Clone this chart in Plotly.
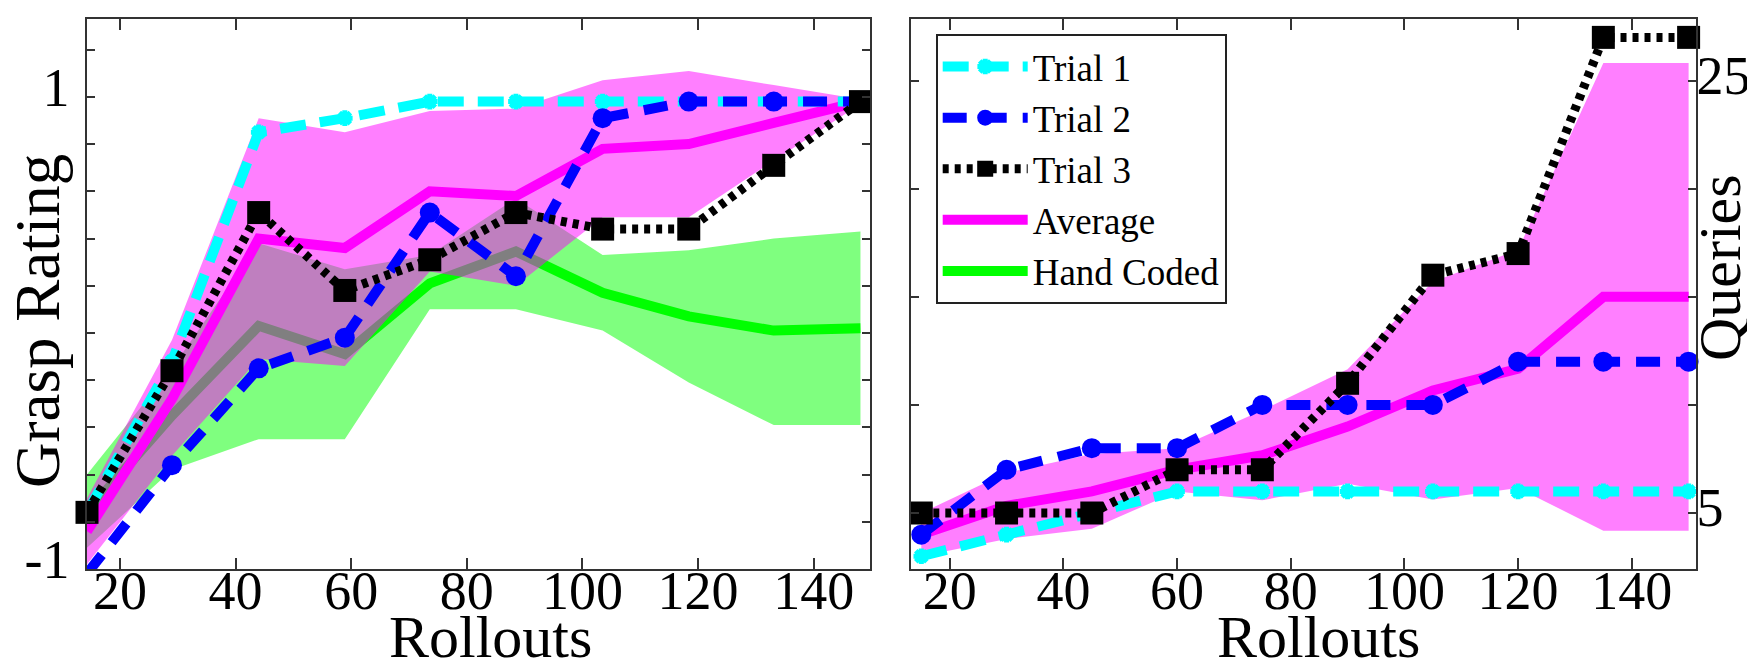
import plotly.graph_objects as go

# ---------------- data ----------------
# left panel: grasp rating vs rollouts
left_x = [14.3, 29.0, 44.0, 58.9, 73.6, 88.5, 103.5, 118.4, 133.1, 148.1]
grasp_t1 = [-0.76, -0.12, 0.85, 0.91, 0.98, 0.98, 0.98, 0.98, 0.98, 0.98]
grasp_t2 = [-1.02, -0.56, -0.15, -0.02, 0.51, 0.24, 0.91, 0.98, 0.98, 0.98]
grasp_t3 = [-0.76, -0.16, 0.51, 0.18, 0.31, 0.51, 0.44, 0.44, 0.71, 0.98]
grasp_avg = [-0.84, -0.28, 0.40, 0.36, 0.60, 0.58, 0.78, 0.80, 0.89, 0.98]
grasp_avg_lo = [-0.98, -0.52, -0.11, -0.14, 0.26, 0.20, 0.49, 0.49, 0.73, 0.97]
grasp_avg_hi = [-0.70, -0.03, 0.91, 0.85, 0.94, 0.95, 1.07, 1.11, 1.05, 0.99]
hand = [-0.76, -0.35, 0.03, -0.09, 0.21, 0.345, 0.17, 0.07, 0.01, 0.02]
hand_lo = [-0.91, -0.58, -0.45, -0.45, 0.10, 0.10, 0.01, -0.21, -0.39, -0.39]
hand_hi = [-0.60, -0.15, 0.38, 0.27, 0.33, 0.57, 0.33, 0.35, 0.40, 0.43]

# right panel: queries vs rollouts
right_x = [15, 30, 45, 60, 75, 90, 105, 120, 135, 150]
q_t1 = [3, 4, 5, 6, 6, 6, 6, 6, 6, 6]
q_t2 = [4, 7, 8, 8, 10, 10, 10, 12, 12, 12]
q_t3 = [5, 5, 5, 7, 7, 11, 16, 17, 27, 27]
q_avg = [4.0, 5.33, 6.0, 7.0, 7.67, 9.0, 10.67, 11.67, 15.0, 15.0]
q_lo = [3.0, 3.80, 4.27, 6.0, 5.59, 6.35, 5.63, 6.16, 4.18, 4.18]
q_hi = [5.0, 6.86, 7.73, 8.0, 9.75, 11.65, 15.70, 17.17, 25.82, 25.82]

x_ticks = [20, 40, 60, 80, 100, 120, 140]
left_y_ticks = [-1.0, -0.8, -0.6, -0.4, -0.2, 0.0, 0.2, 0.4, 0.6, 0.8, 1.0, 1.2]
left_y_text = ["-1", "", "", "", "", "", "", "", "", "", "1", ""]
right_y_ticks = [5, 10, 15, 20, 25]
right_y_text = ["5", "", "", "", "25"]

# ---------------- styles ----------------
FONT = "Liberation Serif"
CYAN, BLUE, BLACK = "#00FFFF", "#0000FF", "#000000"
MAGENTA, GREEN = "#FF00FF", "#00FF00"
MAG_FILL = "rgba(255,0,255,0.5)"
GRN_FILL = "rgba(0,255,0,0.5)"

fig = go.Figure()


def band(x, lo, hi, color, xa, ya):
    fig.add_trace(go.Scatter(
        x=list(x) + list(x)[::-1], y=list(hi) + list(lo)[::-1],
        fill="toself", fillcolor=color, line=dict(width=0),
        mode="lines", showlegend=False, hoverinfo="skip",
        xaxis=xa, yaxis=ya))


def trials(x, t1, t2, t3, xa, ya, show):
    fig.add_trace(go.Scatter(
        x=x, y=t1, name="Trial 1", mode="lines+markers", legendrank=1,
        line=dict(color=CYAN, width=10, dash="26px,14px"),
        marker=dict(symbol="asterisk-open", size=13, color=CYAN,
                    line=dict(width=5, color=CYAN)),
        cliponaxis=False, showlegend=show, xaxis=xa, yaxis=ya))
    fig.add_trace(go.Scatter(
        x=x, y=t2, name="Trial 2", mode="lines+markers", legendrank=2,
        line=dict(color=BLUE, width=10, dash="24px,16px"),
        marker=dict(symbol="circle", size=20, color=BLUE),
        cliponaxis=False, showlegend=show, xaxis=xa, yaxis=ya))
    fig.add_trace(go.Scatter(
        x=x, y=t3, name="Trial 3", mode="lines+markers", legendrank=3,
        line=dict(color=BLACK, width=9, dash="6px,6px"),
        marker=dict(symbol="square", size=23, color=BLACK),
        cliponaxis=False, showlegend=show, xaxis=xa, yaxis=ya))


# left panel
band(left_x, hand_lo, hand_hi, GRN_FILL, "x", "y")
fig.add_trace(go.Scatter(x=left_x, y=hand, name="Hand Coded", mode="lines",
                         legendrank=5, line=dict(color=GREEN, width=10),
                         xaxis="x", yaxis="y"))
band(left_x, grasp_avg_lo, grasp_avg_hi, MAG_FILL, "x", "y")
fig.add_trace(go.Scatter(x=left_x, y=grasp_avg, name="Average", mode="lines",
                         legendrank=4, line=dict(color=MAGENTA, width=10),
                         xaxis="x", yaxis="y"))
trials(left_x, grasp_t1, grasp_t2, grasp_t3, "x", "y", True)

# right panel
band(right_x, q_lo, q_hi, MAG_FILL, "x2", "y2")
fig.add_trace(go.Scatter(x=right_x, y=q_avg, name="Average", mode="lines",
                         line=dict(color=MAGENTA, width=10), showlegend=False,
                         xaxis="x2", yaxis="y2"))
trials(right_x, q_t1, q_t2, q_t3, "x2", "y2", False)

W, H = 1755, 660
axis_common = dict(showline=True, linecolor="#333", linewidth=1.5,
                   mirror="ticks", ticks="inside", tickcolor="#333",
                   tickwidth=1.5, showgrid=False, zeroline=False,
                   automargin=False,
                   tickfont=dict(family=FONT, size=54, color="black"))

ydom = [1 - 561 / H, 1 - 11 / H]
fig.update_layout(
    width=W, height=H,
    margin=dict(l=0, r=0, t=0, b=0),
    paper_bgcolor="white", plot_bgcolor="white",
    xaxis=dict(domain=[79 / W, 861.7 / W], range=[14.3, 149.7],
               tickvals=x_ticks, ticklen=11, anchor="y",
               ticklabelstandoff=-27, **axis_common),
    yaxis=dict(domain=ydom, range=[-1.0, 1.33], tickvals=left_y_ticks,
               ticktext=left_y_text, ticklen=8, anchor="x",
               ticklabelstandoff=5, ticklabelshift=-10, **axis_common),
    xaxis2=dict(domain=[903.3 / W, 1688 / W], range=[13.24, 151.3],
                tickvals=x_ticks, ticklen=11, anchor="y2",
                ticklabelstandoff=-27, **axis_common),
    yaxis2=dict(domain=ydom, range=[2.41, 27.85], tickvals=right_y_ticks,
                ticktext=right_y_text, ticklen=8, side="right",
                anchor="x2", ticklabelstandoff=-12, ticklabelshift=-6,
                **axis_common),
    legend=dict(x=927.7 / W, y=1 - 26 / H, xanchor="left", yanchor="top",
                bgcolor="white", bordercolor="#222", borderwidth=2,
                font=dict(family=FONT, size=37, color="black"),
                itemwidth=85, traceorder="normal"),
    showlegend=True,
)

title_font = dict(family=FONT, size=60, color="black")
fig.add_annotation(text="Rollouts", x=482 / W, y=1 - 629 / H, xref="paper",
                   yref="paper", showarrow=False, font=title_font,
                   xanchor="center", yanchor="middle")
fig.add_annotation(text="Rollouts", x=1310 / W, y=1 - 629 / H, xref="paper",
                   yref="paper", showarrow=False, font=title_font,
                   xanchor="center", yanchor="middle")
fig.add_annotation(text="Grasp Rating", x=30 / W, y=1 - 313 / H, xref="paper",
                   yref="paper", showarrow=False,
                   font=dict(family=FONT, size=63, color="black"),
                   textangle=-90, xanchor="center", yanchor="middle")
fig.add_annotation(text="Queries", x=1712 / W, y=1 - 260 / H, xref="paper",
                   yref="paper", showarrow=False, font=title_font,
                   textangle=-90, xanchor="center", yanchor="middle")

fig.write_html("out.html")
